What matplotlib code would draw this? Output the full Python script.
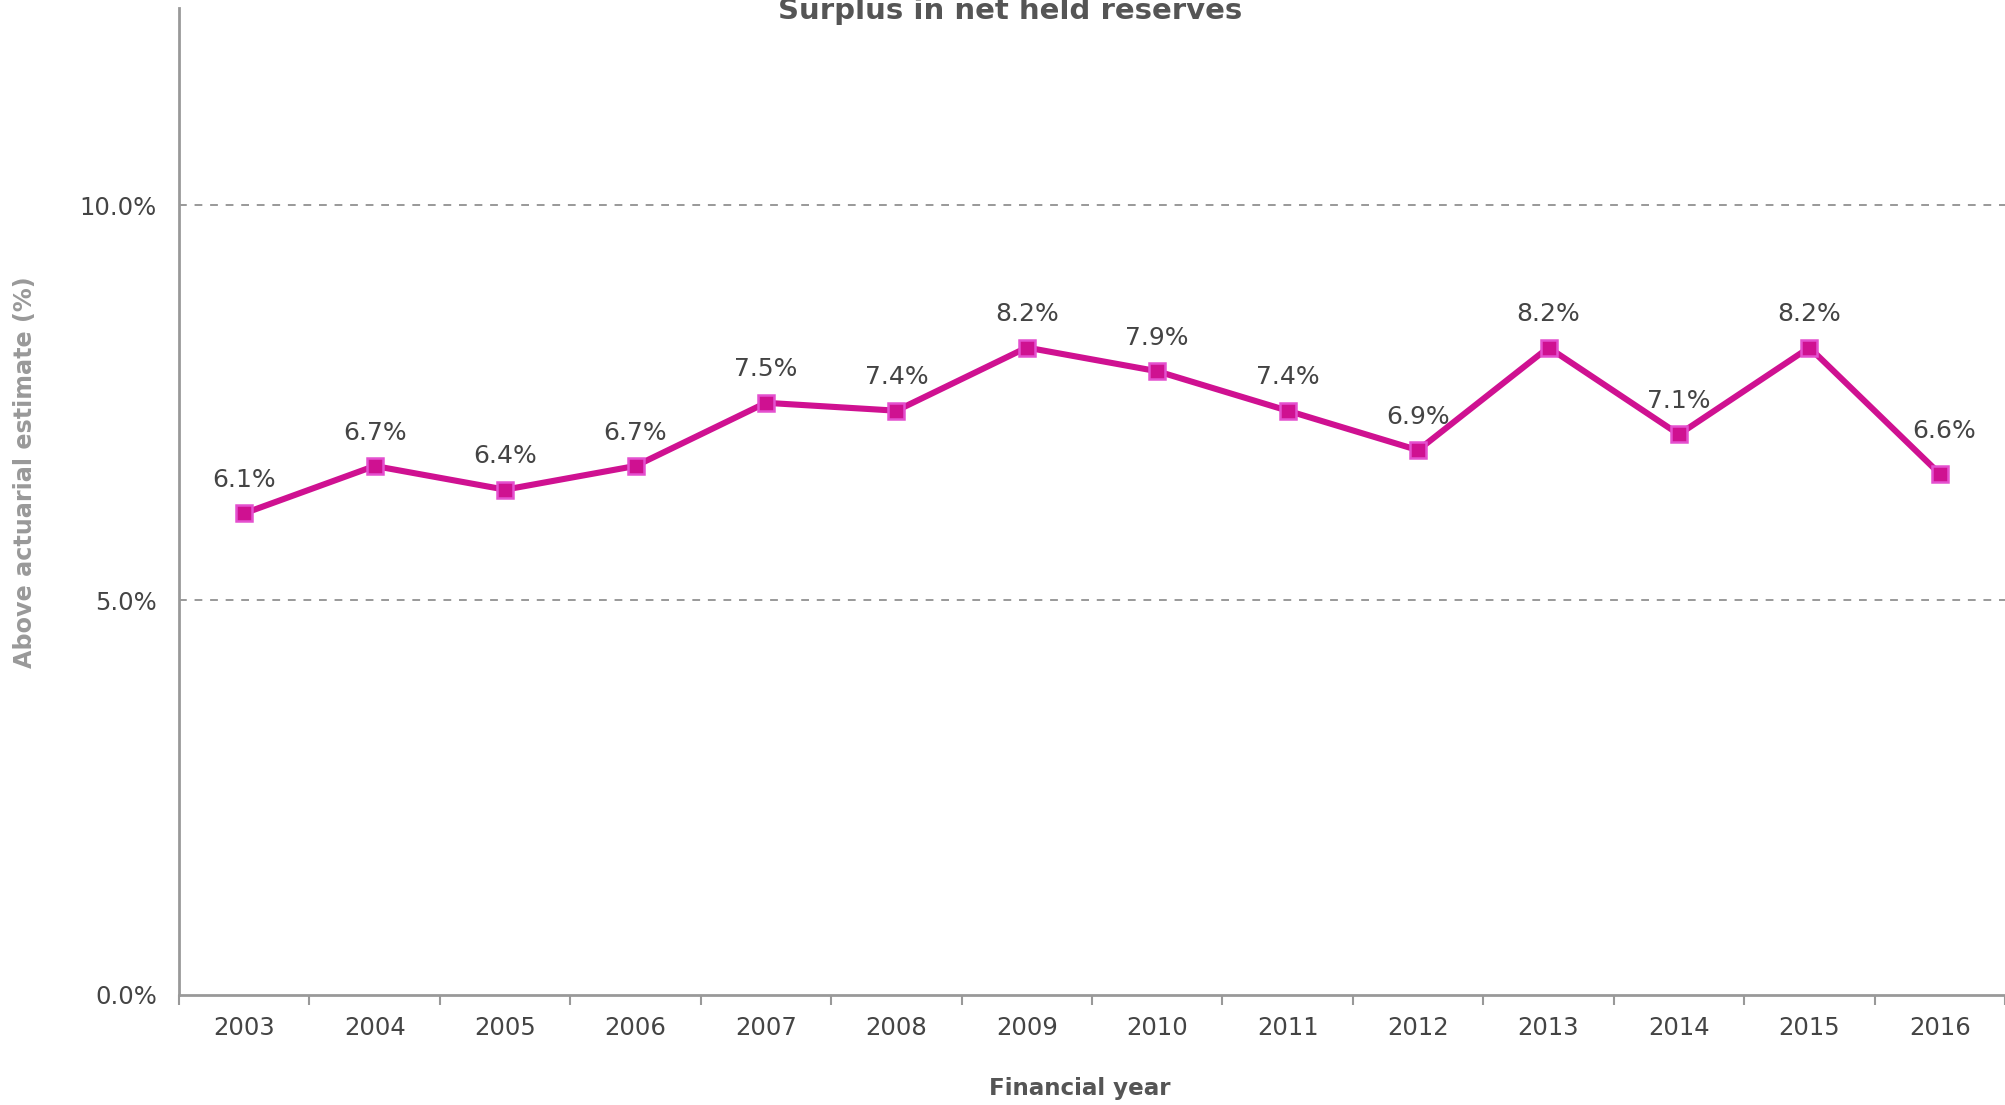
import numpy as np
import matplotlib
matplotlib.use("Agg")
import matplotlib.pyplot as plt

years = ["2003", "2004", "2005", "2006", "2007", "2008", "2009",
         "2010", "2011", "2012", "2013", "2014", "2015", "2016"]
surplus = [6.1, 6.7, 6.4, 6.7, 7.5, 7.4, 8.2, 7.9, 7.4, 6.9, 8.2, 7.1, 8.2, 6.6]
y_ticks = [0.0, 5.0, 10.0]

W, H = 2005, 1105
fig = plt.figure(figsize=(W / 100, H / 100), dpi=100)
ax = fig.add_axes([179 / W, 1 - 995 / H, (2005 - 179) / W, (995 - 8) / H])

x = np.arange(len(years))
line_color = "#cf1191"
ax.plot(x, surplus, color=line_color, lw=4.4, marker="s", ms=11,
        mfc=line_color, mec="#e450cf", mew=1.8, zorder=3, clip_on=False)

for i, (xi, v) in enumerate(zip(x, surplus)):
    # last label sits a bit higher/right in the original (kept inside the plot)
    off = (3, 31) if i == len(x) - 1 else (0, 24)
    ax.annotate(f"{v:.1f}%", xy=(xi, v), xytext=off, textcoords="offset points",
                ha="center", va="center", fontsize=18, color="#444444")

ax.set_xlim(-0.5, len(years) - 0.5)
ax.set_ylim(0, 12.5)
ax.set_yticks(y_ticks)
ax.set_yticklabels([f"{t:.1f}%" for t in y_ticks])
ax.tick_params(axis="y", length=0, pad=16, labelsize=17.5, labelcolor="#444444")

ax.set_xticks(x)
ax.set_xticklabels(years)
ax.set_xticks(np.arange(len(years) + 1) - 0.5, minor=True)
ax.tick_params(axis="x", which="major", length=0, pad=15, labelsize=17.5, labelcolor="#444444")
ax.tick_params(axis="x", which="minor", length=7, width=1.5, color="#999999")

for t in [5.0, 10.0]:
    ax.axhline(t, color="#999999", lw=1.4, ls=(0, (4, 4)), zorder=1)

for side in ["top", "right"]:
    ax.spines[side].set_visible(False)
for side in ["left", "bottom"]:
    ax.spines[side].set_color("#999999")
    ax.spines[side].set_linewidth(2)

fig.text(1010 / W, 1 - 19 / H, "Surplus in net held reserves", ha="center", va="baseline",
         fontsize=21, fontweight="bold", color="#555555")
fig.text(1080 / W, 1 - 1088 / H, "Financial year", ha="center", va="center",
         fontsize=16.6, fontweight="bold", color="#555555")
fig.text(25 / W, 1 - 472 / H, "Above actuarial estimate (%)", ha="center", va="center",
         rotation=90, fontsize=17.2, fontweight="bold", color="#999999")

fig.savefig("out.png", dpi=100)
plt.close(fig)
